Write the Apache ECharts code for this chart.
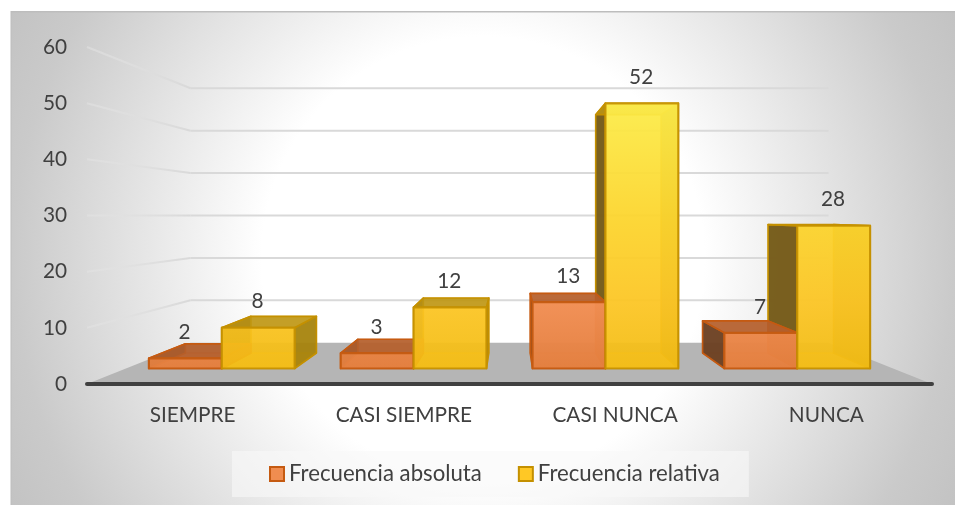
<!DOCTYPE html>
<html>
<head>
<meta charset="utf-8">
<style>html,body{margin:0;padding:0;background:#fff}#c{width:955px;height:505px}</style>
<script src="https://cdn.jsdelivr.net/npm/echarts@6/dist/echarts.min.js"></script>
</head>
<body>
<div id="c"></div>
<script>
const categories = ['SIEMPRE', 'CASI SIEMPRE', 'CASI NUNCA', 'NUNCA'];
const frecuenciaAbsoluta = [2, 3, 13, 7];
const frecuenciaRelativa = [8, 12, 52, 28];
const axisTicks = [0, 10, 20, 30, 40, 50, 60];

// perspective depths, 1 = plane of the axis labels
const S_FRONT = 0.908, S_BACK = 0.816, S_WALL = 0.755, EYE_VALUE = 30, BAR_SHARE = 0.38;
const FONT = 'Lato';
const TEXT = '#404040';

const orange = {
  edge: '#C55A11', inner: 'rgba(197,90,17,0.35)',
  stops: [[0, '#F79550'], [0.75, '#F39055'], [1, '#E5803F']], alpha: 0.94,
  back: 'rgba(190,95,40,0.55)', bottom: 'rgba(205,105,50,0.7)',
  left: 'rgba(105,65,35,0.93)', right: 'rgba(200,95,35,0.7)', top: 'rgba(180,95,45,0.85)',
  layer: 1
};
const yellow = {
  edge: '#C49000', inner: 'rgba(240,180,0,0.55)',
  stops: [[0, '#FFF04C'], [0.45, '#FFD72E'], [0.75, '#FFC826'], [1, '#F5BE14']], alpha: 0.9,
  back: 'rgba(190,150,10,0.45)', bottom: 'rgba(230,175,10,0.6)',
  left: 'rgba(118,92,28,0.97)', right: 'rgba(165,130,12,0.9)', top: 'rgba(190,150,20,0.85)',
  layer: 0
};

function projector(api, params) {
  const cs = params.coordSys;
  const vx = cs.x + cs.width / 2;
  const vy = api.coord([0, EYE_VALUE])[1];
  return (x, y, s) => [vx + (x - vx) * s, vy + (y - vy) * s];
}

function barRenderer(look, side) {
  return function (params, api) {
    const P = projector(api, params);
    const band = api.size([1, 0])[0];
    const base = api.coord([api.value(0), 0]);
    const top = api.coord([api.value(0), api.value(1)]);
    const w = band * BAR_SHARE;
    const x0 = side < 0 ? base[0] - w : base[0];
    const x1 = x0 + w;
    const yb = base[1], yt = top[1];
    const fbl = P(x0, yb, S_FRONT), fbr = P(x1, yb, S_FRONT), ftl = P(x0, yt, S_FRONT), ftr = P(x1, yt, S_FRONT);
    const bbl = P(x0, yb, S_BACK), bbr = P(x1, yb, S_BACK), btl = P(x0, yt, S_BACK), btr = P(x1, yt, S_BACK);
    const face = (pts, fill, stroke, lw, opacity, z2) => ({
      type: 'polygon', z2: z2 == null ? look.layer : z2, shape: { points: pts },
      style: { fill, stroke, lineWidth: lw, opacity: opacity == null ? 1 : opacity, lineJoin: 'round' }
    });
    // shade the front over the full height of the plot, so tall bars reach the brighter top
    const gradTop = P(0, api.coord([0, 52])[1], S_FRONT)[1];
    const grad = new echarts.graphic.LinearGradient(0, gradTop, 0, fbl[1],
      look.stops.map(s => ({ offset: s[0], color: s[1] })), true);
    const children = [
      face([bbl, bbr, btr, btl], look.back, look.inner, 1.2),
      face([fbl, fbr, bbr, bbl], look.bottom, look.inner, 1.2),
      face([fbl, ftl, btl, bbl], look.left, look.edge, 1.6),
      face([fbr, ftr, btr, bbr], look.right, look.edge, 1.6),
      face([ftl, ftr, btr, btl], look.top, look.edge, 1.6),
      // the yellow front sits in front of the whole orange bar, its sides behind it
      face([fbl, fbr, ftr, ftl], grad, look.edge, 2.2, look.alpha, look.layer === 0 ? 2 : 1),
      {
        type: 'text', z2: 3,
        style: {
          x: (ftl[0] + ftr[0]) / 2 - 0.7, y: ftl[1] - 26,
          text: String(api.value(1)), font: '20.8px ' + FONT, fill: TEXT,
          textAlign: 'center', textVerticalAlign: 'middle'
        }
      }
    ];
    return { type: 'group', children };
  };
}

function roomRenderer(params, api) {
  const P = projector(api, params);
  const cs = params.coordSys;
  const v = api.value(0);
  const y = api.coord([0, v])[1];
  const left = cs.x, right = cs.x + cs.width;
  const a = [left, y], b = P(left, y, S_WALL), c = P(right, y, S_WALL);
  if (v === 0) {
    return {
      type: 'polygon',
      shape: { points: [a, b, c, [right, y]] },
      style: { fill: '#B5B5B5' }
    };
  }
  const fade = new echarts.graphic.LinearGradient(a[0], 0, b[0], 0, [
    { offset: 0, color: 'rgba(228,228,228,0.5)' },
    { offset: 1, color: 'rgba(217,217,217,1)' }
  ], true);
  return {
    type: 'group',
    children: [
      { type: 'polyline', shape: { points: [a, b] }, style: { stroke: fade, lineWidth: 2, fill: null } },
      { type: 'line', shape: { x1: b[0], y1: b[1], x2: c[0], y2: c[1] }, style: { stroke: '#D9D9D9', lineWidth: 2 } }
    ]
  };
}

const chart = echarts.init(document.getElementById('c'), null, { renderer: 'canvas' });

const backdrop = new echarts.graphic.RadialGradient(483, 258, 540, [
  { offset: 0, color: '#FFFFFF' },
  { offset: 0.41, color: '#FFFFFF' },
  { offset: 0.87, color: '#CACACA' },
  { offset: 1, color: '#C2C2C2' }
], true);

chart.setOption({
  animation: false,
  backgroundColor: '#FFFFFF',
  textStyle: { fontFamily: FONT },
  graphic: [
    {
      type: 'rect', z: -10, silent: true,
      shape: { x: 11, y: 12, width: 944, height: 493 },
      style: { fill: backdrop }
    },
    { type: 'rect', z: -9, silent: true, shape: { x: 11, y: 11, width: 944, height: 1.5 }, style: { fill: '#BDBDBD' } },
    { type: 'rect', z: -9, silent: true, shape: { x: 10.5, y: 11, width: 1, height: 494 }, style: { fill: '#BDBDBD' } }
  ],
  legend: {
    show: true,
    left: 232, top: 451,
    padding: [12, 29, 12, 37],
    itemWidth: 14, itemHeight: 14, itemGap: 36,
    backgroundColor: 'rgba(248,248,248,0.6)',
    textStyle: { fontFamily: FONT, fontSize: 22.2, color: TEXT },
    data: [
      { name: 'Frecuencia absoluta', icon: 'rect', itemStyle: { color: '#F08D50', borderColor: '#C55A11', borderWidth: 2 } },
      { name: 'Frecuencia relativa', icon: 'rect', itemStyle: { color: '#FFC825', borderColor: '#C49000', borderWidth: 2 } }
    ]
  },
  grid: { left: 87, right: 23, top: 47, bottom: 121, containLabel: false },
  xAxis: {
    type: 'category', data: categories, z: 10,
    axisLine: { show: true, lineStyle: { color: '#404040', width: 4, cap: 'round' } },
    axisTick: { show: false },
    splitLine: { show: false },
    axisLabel: { color: TEXT, fontFamily: FONT, fontSize: 20.8, margin: 21, interval: 0 }
  },
  yAxis: {
    type: 'value', min: 0, max: 60, interval: 10,
    axisLine: { show: false }, axisTick: { show: false }, splitLine: { show: false },
    axisLabel: { color: TEXT, fontFamily: FONT, fontSize: 20.8, margin: 20, padding: [3, 0, 0, 0] }
  },
  series: [
    {
      type: 'custom', name: 'room', silent: true, z: 1, clip: false,
      coordinateSystem: 'cartesian2d',
      encode: { x: 1, y: 0 },
      data: axisTicks.map(t => [t, 0]),
      renderItem: roomRenderer
    },
    {
      type: 'custom', name: 'Frecuencia relativa', z: 2, clip: false,
      coordinateSystem: 'cartesian2d',
      itemStyle: { color: '#FFC825' },
      encode: { x: 0, y: 1 },
      data: frecuenciaRelativa.map((v, i) => [i, v]),
      renderItem: barRenderer(yellow, 1)
    },
    {
      type: 'custom', name: 'Frecuencia absoluta', z: 2, clip: false,
      coordinateSystem: 'cartesian2d',
      itemStyle: { color: '#F08D50' },
      encode: { x: 0, y: 1 },
      data: frecuenciaAbsoluta.map((v, i) => [i, v]),
      renderItem: barRenderer(orange, -1)
    }
  ]
});
</script>
</body>
</html>
